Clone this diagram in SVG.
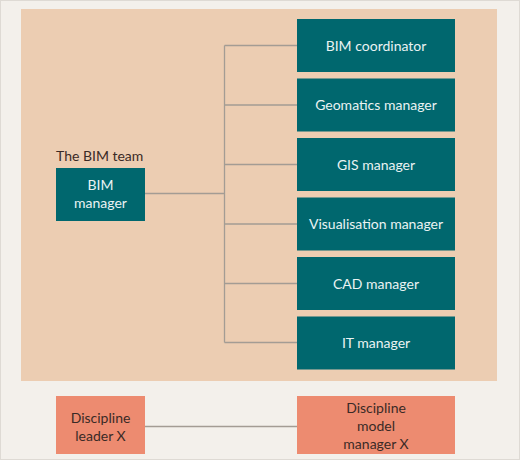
<svg xmlns="http://www.w3.org/2000/svg" width="520" height="460" viewBox="0 0 520 460">
<style>
.teal{fill:#00676e}
.salmon{fill:#ed8b70}
.wt{fill:#eaf3f3;font-family:Lato,"Open Sans",sans-serif;font-size:14px;text-anchor:middle}
.dt{fill:#3a2a26;font-family:Lato,"Open Sans",sans-serif;font-size:14px;text-anchor:middle}
.ln{stroke:#a39c94;stroke-width:1.3;fill:none}
</style>
<rect x="0.5" y="0.5" width="519" height="459" fill="#f3f0eb" stroke="#dedad4"/>
<rect x="21" y="9" width="476" height="372" fill="#eccdb2"/>
<text x="56" y="161" style="fill:#3a2a26;font-family:Lato,'Open Sans',sans-serif;font-size:14px">The BIM team</text>
<g id="connectors">
<path class="ln" d="M145 193.5H224.5M224.5 45.5V342.5M224.5 45.5H297M224.5 105H297M224.5 164.5H297M224.5 224H297M224.5 283.5H297M224.5 342.5H297"/>
<path class="ln" d="M145 426.5H297"/>
</g>
<g id="bim-manager"><rect class="teal" x="56" y="168" width="89" height="53"/><text class="wt" x="100.5" y="190">BIM</text><text class="wt" x="100.5" y="208">manager</text></g>
<g id="bim-coordinator"><rect class="teal" x="297" y="19" width="158" height="53"/><text class="wt" x="376" y="50.5">BIM coordinator</text></g>
<g id="geomatics-manager"><rect class="teal" x="297" y="78.5" width="158" height="53"/><text class="wt" x="376" y="110">Geomatics manager</text></g>
<g id="gis-manager"><rect class="teal" x="297" y="138" width="158" height="53"/><text class="wt" x="376" y="169.5">GIS manager</text></g>
<g id="visualisation-manager"><rect class="teal" x="297" y="197.5" width="158" height="53"/><text class="wt" x="376" y="229">Visualisation manager</text></g>
<g id="cad-manager"><rect class="teal" x="297" y="257" width="158" height="53"/><text class="wt" x="376" y="288.5">CAD manager</text></g>
<g id="it-manager"><rect class="teal" x="297" y="316.5" width="158" height="53"/><text class="wt" x="376" y="348">IT manager</text></g>
<g id="discipline-leader"><rect class="salmon" x="56" y="396" width="89" height="58"/><text class="dt" x="100.5" y="422.5">Discipline</text><text class="dt" x="100.5" y="440.5">leader X</text></g>
<g id="discipline-model-manager"><rect class="salmon" x="297" y="396" width="158" height="58"/><text class="dt" x="376" y="413">Discipline</text><text class="dt" x="376" y="431">model</text><text class="dt" x="376" y="449">manager X</text></g>
</svg>
